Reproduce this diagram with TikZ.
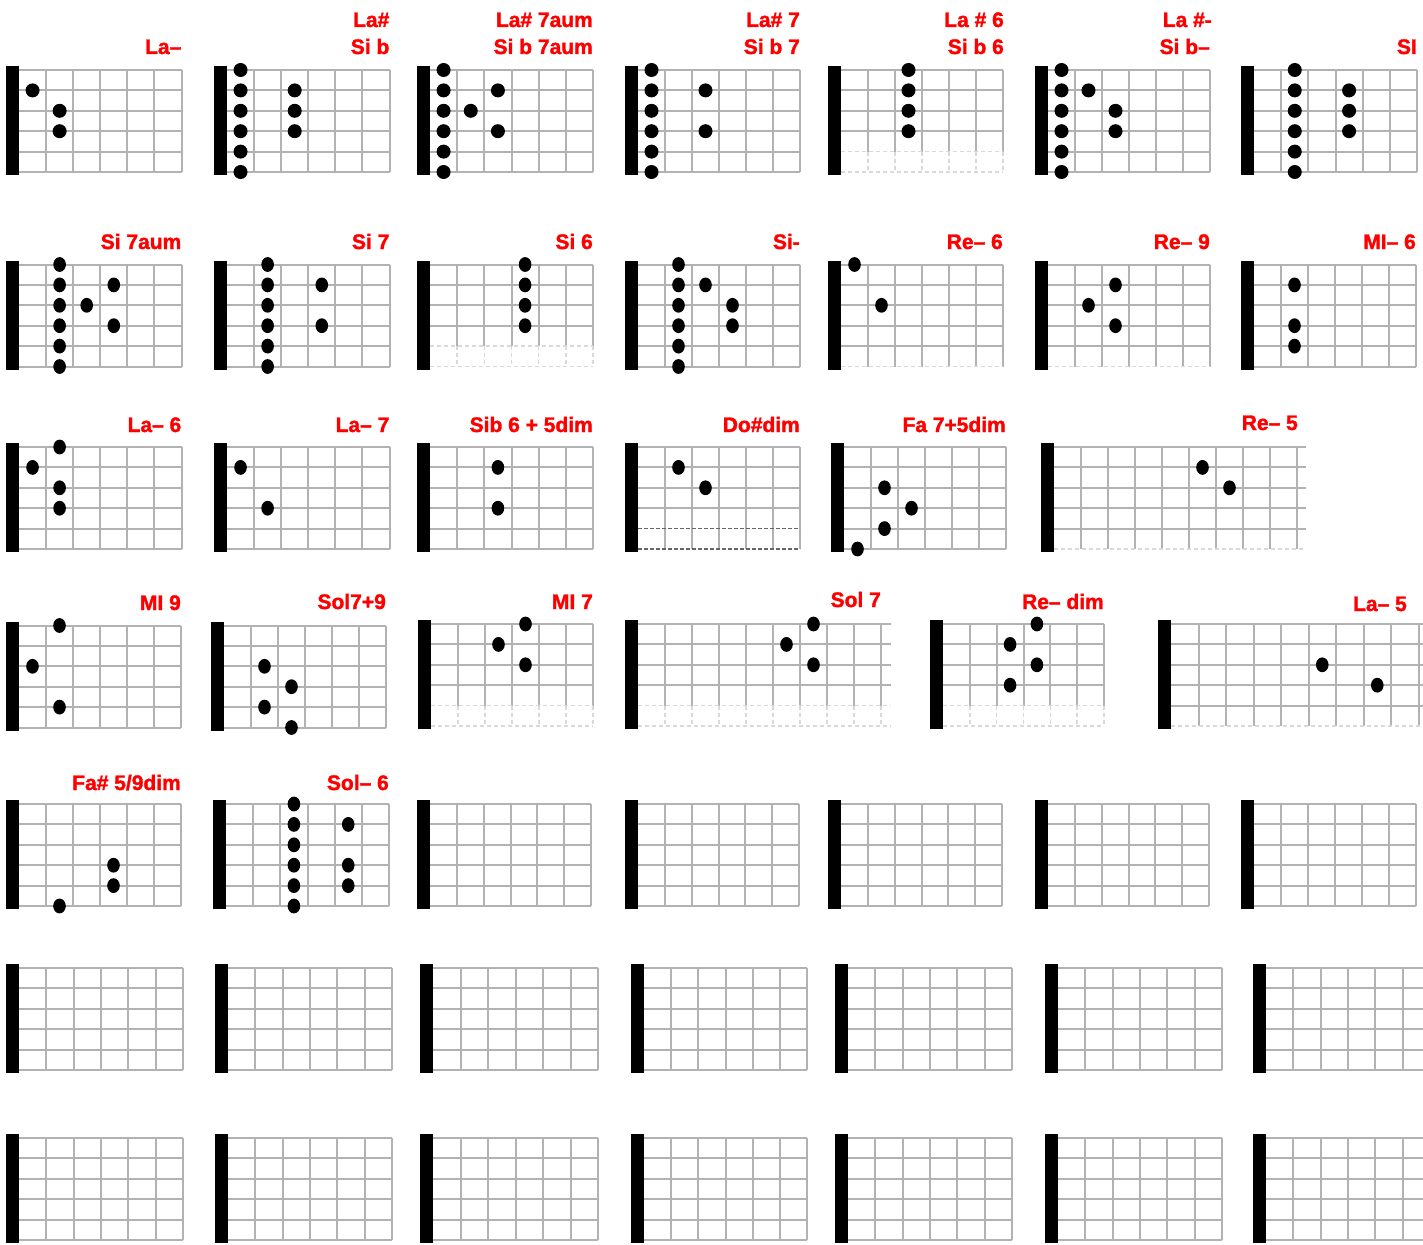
\documentclass[tikz,border=0pt]{standalone}
\usepackage{fontspec}
\setmainfont{Liberation Sans}
\newfontface\chordfont{Liberation Sans Bold}[FakeBold=1.6]

% #1 nut x, #2 top y, #3 fret width, #4 frets, #5 right end, #6 last row look
\newcommand{\fretgrid}[6]{%
  \pgfmathsetmacro{\fgl}{#1+13}%
  \pgfmathsetmacro{\fgt}{#2}%
  \pgfmathsetmacro{\fcw}{#3}%
  \pgfmathsetmacro{\fgb}{#2+102}%
  \pgfmathsetmacro{\fgm}{#2+81.6}%
  \ifcase#6
    \foreach \fs in {0,...,5} \draw[gridline] (\fgl,\fgt+\fs*20.4) -- (#5,\fgt+\fs*20.4);
    \foreach \k in {1,...,#4} \draw[gridline] (\fgl+\k*\fcw,\fgt) -- (\fgl+\k*\fcw,\fgb);
  \or
    \foreach \fs in {0,...,4} \draw[gridline] (\fgl,\fgt+\fs*20.4) -- (#5,\fgt+\fs*20.4);
    \foreach \k in {1,...,#4} \draw[gridline] (\fgl+\k*\fcw,\fgt) -- (\fgl+\k*\fcw,\fgb);
    \draw[ghostline] (\fgl,\fgb) -- (#5,\fgb);
  \or
    \foreach \fs in {0,...,3} \draw[gridline] (\fgl,\fgt+\fs*20.4) -- (#5,\fgt+\fs*20.4);
    \foreach \k in {1,...,#4} {
      \draw[gridline] (\fgl+\k*\fcw,\fgt) -- (\fgl+\k*\fcw,\fgm);
      \draw[ghostline] (\fgl+\k*\fcw,\fgm) -- (\fgl+\k*\fcw,\fgb);
    }
    \draw[ghostline] (\fgl,\fgm) -- (#5,\fgm);
    \draw[ghostline] (\fgl,\fgb) -- (#5,\fgb);
  \or
    \foreach \fs in {0,...,3} \draw[gridline] (\fgl,\fgt+\fs*20.4) -- (#5,\fgt+\fs*20.4);
    \foreach \k in {1,...,#4} \draw[gridline] (\fgl+\k*\fcw,\fgt) -- (\fgl+\k*\fcw,\fgb);
    \draw[darkline] (\fgl,\fgm) -- (#5,\fgm);
    \draw[darkline] (\fgl,\fgb) -- (#5,\fgb);
  \fi
  \fill[nutbar] (#1,\fgt-4) rectangle (\fgl,\fgb+3);
}
% six frets between nut and right end
\newcommand{\chart}[4]{%
  \pgfmathsetmacro{\fcwd}{(#3-#1-13)/6}%
  \fretgrid{#1}{#2}{\fcwd}{6}{#3}{#4}%
}
\newcommand{\fingers}[2][fingerdot]{%
  \foreach \fc/\fs in {#2}
    \fill[#1] (\fgl+\fc*\fcw-0.5*\fcw,\fgt+\fs*20.4-20.4) ellipse;
}

\begin{document}
\begin{tikzpicture}[x=1pt, y=-1pt,
    gridline/.style={draw=black!30, line width=2pt},
    ghostline/.style={draw=black!15, line width=1.6pt, dash pattern=on 4pt off 3pt},
    darkline/.style={draw=black!60, line width=1.3pt, dash pattern=on 4pt off 2pt},
    nutbar/.style={fill=black},
    fingerdot/.style={fill=black, x radius=6.3pt, y radius=7.4pt},
    rounddot/.style={fill=black, x radius=7pt, y radius=7pt},
    chordname/.style={anchor=base east, inner sep=0pt, text=red, font=\chordfont\fontsize{21}{25}\selectfont}
  ]
  \useasboundingbox (0,0) rectangle (1423,1244);

  % row 1
  \chart{6}{70}{181.5}{0}
  \fingers[rounddot]{1/2, 2/3, 2/4}
  \node[chordname] (lamenor) at (181.5,54) {La–};

  \chart{214}{70}{389.5}{0}
  \fingers[rounddot]{1/1, 1/2, 1/3, 1/4, 1/5, 1/6, 3/2, 3/3, 3/4}
  \node[chordname] (lasost) at (389.5,27) {La\#};
  \node[chordname] (sibem) at (389.5,54) {Si b};

  \chart{417}{70}{593}{0}
  \fingers[rounddot]{1/1, 1/2, 1/3, 1/4, 1/5, 1/6, 2/3, 3/2, 3/4}
  \node[chordname] (lasostaum) at (593,27) {La\# 7aum};
  \node[chordname] (sibemaum) at (593,54) {Si b 7aum};

  \chart{625}{70}{800}{0}
  \fingers[rounddot]{1/1, 1/2, 1/3, 1/4, 1/5, 1/6, 3/2, 3/4}
  \node[chordname] (lasostsiete) at (800,27) {La\# 7};
  \node[chordname] (sibemsiete) at (800,54) {Si b 7};

  \chart{828}{70}{1003}{2}
  \fingers[rounddot]{3/1, 3/2, 3/3, 3/4}
  \node[chordname] (lasostseis) at (1004,27) {La \# 6};
  \node[chordname] (sibemseis) at (1004,54) {Si b 6};

  \chart{1035}{70}{1210}{0}
  \fingers[rounddot]{1/1, 1/2, 1/3, 1/4, 1/5, 1/6, 2/2, 3/3, 3/4}
  \node[chordname] (lasostmenor) at (1212,27) {La \#-};
  \node[chordname] (sibemmenor) at (1210,54) {Si b–};

  \chart{1241}{70}{1417}{0}
  \fingers[rounddot]{2/1, 2/2, 2/3, 2/4, 2/5, 2/6, 4/2, 4/3, 4/4}
  \node[chordname] (simayor) at (1417,54) {SI};

  % row 2
  \chart{6}{264.5}{181.5}{0}
  \fingers{2/1, 2/2, 2/3, 2/4, 2/5, 2/6, 3/3, 4/2, 4/4}
  \node[chordname] (siaum) at (181.5,249) {Si 7aum};

  \chart{214}{264.5}{389.5}{0}
  \fingers{2/1, 2/2, 2/3, 2/4, 2/5, 2/6, 4/2, 4/4}
  \node[chordname] (sisiete) at (389.5,249) {Si 7};

  \chart{417}{264.5}{593}{2}
  \fingers{4/1, 4/2, 4/3, 4/4}
  \node[chordname] (siseis) at (593,249) {Si 6};

  \chart{625}{264.5}{800}{0}
  \fingers{2/1, 2/2, 2/3, 2/4, 2/5, 2/6, 3/2, 4/3, 4/4}
  \node[chordname] (simenor) at (800,249) {Si-};

  \chart{828}{264.5}{1003}{1}
  \fingers{1/1, 2/3}
  \node[chordname] (remseis) at (1003,249) {Re– 6};

  \chart{1035}{264.5}{1210}{1}
  \fingers{2/3, 3/2, 3/4}
  \node[chordname] (remnueve) at (1210,249) {Re– 9};

  \chart{1241}{264.5}{1416}{0}
  \fingers{2/2, 2/4, 2/5}
  \node[chordname] (mimseis) at (1416,249) {MI– 6};

  % row 3
  \chart{6}{447}{181.5}{0}
  \fingers{2/1, 1/2, 2/3, 2/4}
  \node[chordname] (lamseis) at (181.5,432) {La– 6};

  \chart{214}{447}{389.5}{0}
  \fingers{1/2, 2/4}
  \node[chordname] (lamsiete) at (389.5,432) {La– 7};

  \chart{417}{447}{593}{0}
  \fingers{3/2, 3/4}
  \node[chordname] (sibseis) at (593,432) {Sib 6 + 5dim};

  \chart{625}{447}{800}{3}
  \fingers{2/2, 3/3}
  \node[chordname] (dodim) at (800,432) {Do\#dim};

  \chart{831}{447}{1006}{0}
  \fingers{2/3, 3/4, 2/5, 1/6}
  \node[chordname] (fasiete) at (1006,432) {Fa 7+5dim};

  \fretgrid{1041}{447}{27}{9}{1306}{1}
  \fingers{6/2, 7/3}
  \node[chordname] (remcinco) at (1298,430) {Re– 5};

  % row 4
  \chart{6}{625.5}{181}{0}
  \fingers{2/1, 1/3, 2/5}
  \node[chordname] (minueve) at (181,610) {MI 9};

  \chart{211}{625.5}{386}{0}
  \fingers{2/3, 3/4, 2/5, 3/6}
  \node[chordname] (solnueve) at (386,609) {Sol7+9};

  \chart{418}{624}{593}{2}
  \fingers{4/1, 3/2, 4/3}
  \node[chordname] (misiete) at (593,609) {MI 7};

  \fretgrid{625}{624}{27}{9}{891}{2}
  \fingers{7/1, 6/2, 7/3}
  \node[chordname] (solsiete) at (881,607) {Sol 7};

  \chart{930}{624}{1104}{2}
  \fingers{4/1, 3/2, 4/3, 3/4}
  \node[chordname] (remdim) at (1104,609) {Re– dim};

  \fretgrid{1158}{624}{27.5}{9}{1424}{1}
  \fingers{6/3, 8/4}
  \node[chordname] (lamcinco) at (1407,611) {La– 5};

  % row 5
  \chart{6}{804}{181}{0}
  \fingers{4/4, 4/5, 2/6}
  \node[chordname] (fasostdim) at (181,790) {Fa\# 5/9dim};

  \chart{213}{804}{389}{0}
  \fingers{3/1, 3/2, 3/3, 3/4, 3/5, 3/6, 5/2, 5/4, 5/5}
  \node[chordname] (solmseis) at (389,790) {Sol– 6};

  \chart{417}{804}{591}{0}
  \chart{625}{804}{799}{0}
  \chart{828}{804}{1002}{0}
  \chart{1035}{804}{1209}{0}
  \chart{1241}{804}{1416}{0}

  % rows 6 and 7, empty
  \foreach \ry in {968,1138} {
    \chart{6}{\ry}{183}{0}
    \chart{215}{\ry}{392}{0}
    \chart{420}{\ry}{598}{0}
    \chart{631}{\ry}{807}{0}
    \chart{835}{\ry}{1012}{0}
    \chart{1045}{\ry}{1222}{0}
    \chart{1253}{\ry}{1430}{0}
  }
\end{tikzpicture}
\end{document}
